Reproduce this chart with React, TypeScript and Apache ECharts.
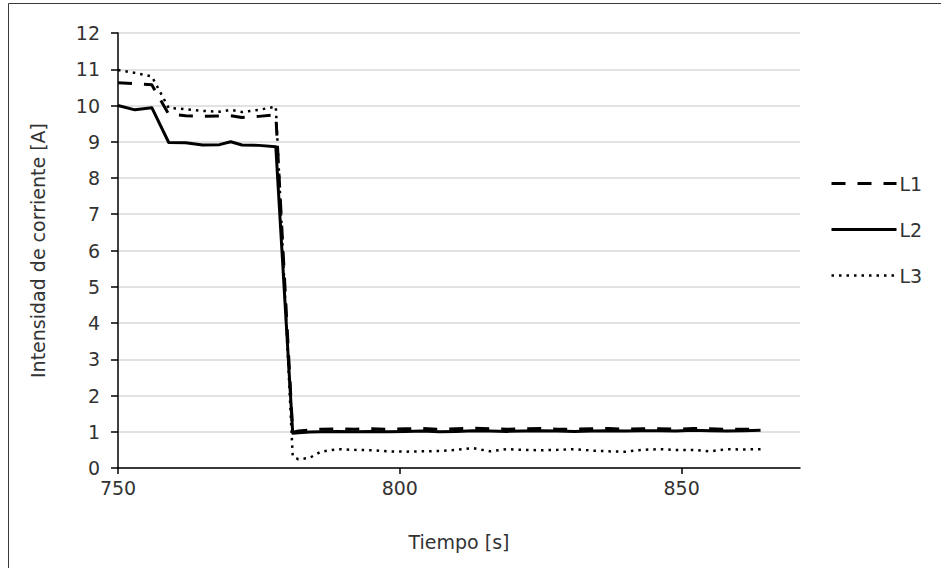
import React, { useEffect, useRef } from "react";
import * as echarts from "echarts";

const times = [
  750, 753, 756, 759, 762, 765, 768, 770, 772, 775, 778,
  781, 782, 784, 786, 789, 792, 795, 798, 801, 804, 807, 810, 813, 816, 819,
  822, 825, 828, 831, 834, 837, 840, 843, 846, 849, 852, 855, 858, 861, 864,
];
const l1 = [
  10.63, 10.6, 10.57, 9.76, 9.72, 9.7, 9.71, 9.72, 9.67, 9.7, 9.74,
  0.98, 1.02, 1.05, 1.07, 1.08, 1.07, 1.08, 1.07, 1.08, 1.09, 1.07, 1.08, 1.1, 1.08, 1.07,
  1.08, 1.09, 1.07, 1.07, 1.08, 1.09, 1.07, 1.08, 1.08, 1.07, 1.09, 1.08, 1.07, 1.07, 1.07,
];
const l2 = [
  10.0, 9.88, 9.94, 8.98, 8.97, 8.91, 8.92, 9.0, 8.91, 8.9, 8.86,
  0.96, 0.97, 0.99, 1.0, 1.01, 1.0, 1.01, 1.0, 1.01, 1.02, 1.0, 1.01, 1.03, 1.02, 1.01,
  1.02, 1.03, 1.02, 1.01, 1.02, 1.03, 1.02, 1.03, 1.03, 1.02, 1.04, 1.03, 1.02, 1.03, 1.04,
];
const l3 = [
  10.98, 10.9, 10.8, 9.93, 9.9, 9.85, 9.83, 9.88, 9.82, 9.88, 9.97,
  0.32, 0.24, 0.28, 0.45, 0.52, 0.5, 0.49, 0.46, 0.45, 0.46, 0.47, 0.5, 0.55, 0.46, 0.52,
  0.5, 0.49, 0.5, 0.52, 0.48, 0.46, 0.45, 0.5, 0.52, 0.5, 0.5, 0.46, 0.52, 0.51, 0.52,
];
const seriesNames = ["L1", "L2", "L3"];
const xTicks = [750, 800, 850];
const yTitle = "Intensidad de corriente [A]";
const xTitle = "Tiempo [s]";

const FONT = "DejaVu Sans";
const FS = 19;
const TXT = "#333333";

export default function App() {
  const ref = useRef<HTMLDivElement>(null);
  useEffect(() => {
    if (!ref.current) return;
    const chart = echarts.init(ref.current, undefined, { renderer: "svg" });
    const zip = (v: number[]) => times.map((t, i) => [t, v[i]]);
    const styles = [
      { type: [14, 12], width: 3 },
      { type: "solid", width: 3 },
      { type: [2.5, 5], width: 2.5 },
    ];
    const values = [l1, l2, l3];
    chart.setOption({
      animation: false,
      backgroundColor: "#fff",
      textStyle: { fontFamily: FONT },
      grid: { left: 118, top: 33, width: 682, height: 435, containLabel: false },
      legend: {
        orient: "vertical",
        left: 830,
        top: 174,
        itemWidth: 65,
        itemHeight: 22,
        itemGap: 27,
        padding: 0,
        itemStyle: { opacity: 0 },
        textStyle: { fontFamily: FONT, fontSize: FS, color: TXT, padding: [0, 0, 0, -2] },
        data: seriesNames.map((n, i) => ({
          name: n,
          lineStyle: { width: styles[i].width, type: styles[i].type, color: "#000" },
        })),
      },
      xAxis: {
        type: "value",
        min: 750,
        max: 871,
        interval: 50,
        name: xTitle,
        nameLocation: "middle",
        nameGap: 64,
        nameTextStyle: { fontFamily: FONT, fontSize: FS, color: TXT },
        axisLine: { show: true, lineStyle: { color: "#000", width: 1.5 } },
        axisTick: { show: true, length: 6, lineStyle: { color: "#000", width: 1.5 }, customValues: xTicks },
        axisLabel: { fontFamily: FONT, fontSize: FS, color: TXT, margin: 10, customValues: xTicks },
        splitLine: { show: false },
      },
      yAxis: {
        type: "value",
        min: 0,
        max: 12,
        interval: 1,
        name: yTitle,
        nameLocation: "middle",
        nameGap: 71,
        nameTextStyle: { fontFamily: FONT, fontSize: FS, color: TXT },
        axisLine: { show: true, lineStyle: { color: "#000", width: 1.5 } },
        axisTick: { show: true, length: 7, lineStyle: { color: "#000", width: 1.5 } },
        axisLabel: { fontFamily: FONT, fontSize: FS, color: TXT, margin: 18 },
        splitLine: { show: true, lineStyle: { color: "#d9d9d9", width: 1.5 } },
      },
      graphic: [
        {
          type: "rect",
          shape: { x: 8.5, y: 3.5, width: 1000, height: 1000 },
          style: { fill: "none", stroke: "#3a3a3a", lineWidth: 1 },
          silent: true,
        },
      ],
      series: seriesNames.map((n, i) => ({
        name: n,
        type: "line",
        data: zip(values[i]),
        symbol: "none",
        showSymbol: false,
        color: "#000",
        lineStyle: { color: "#000", width: styles[i].width, type: styles[i].type, cap: "butt", join: "round" },
        z: 3 - i,
      })),
    });
    return () => chart.dispose();
  }, []);
  return (
    <div
      ref={ref}
      style={{ position: "fixed", left: 0, top: 0, width: 941, height: 568, background: "#fff" }}
    />
  );
}
